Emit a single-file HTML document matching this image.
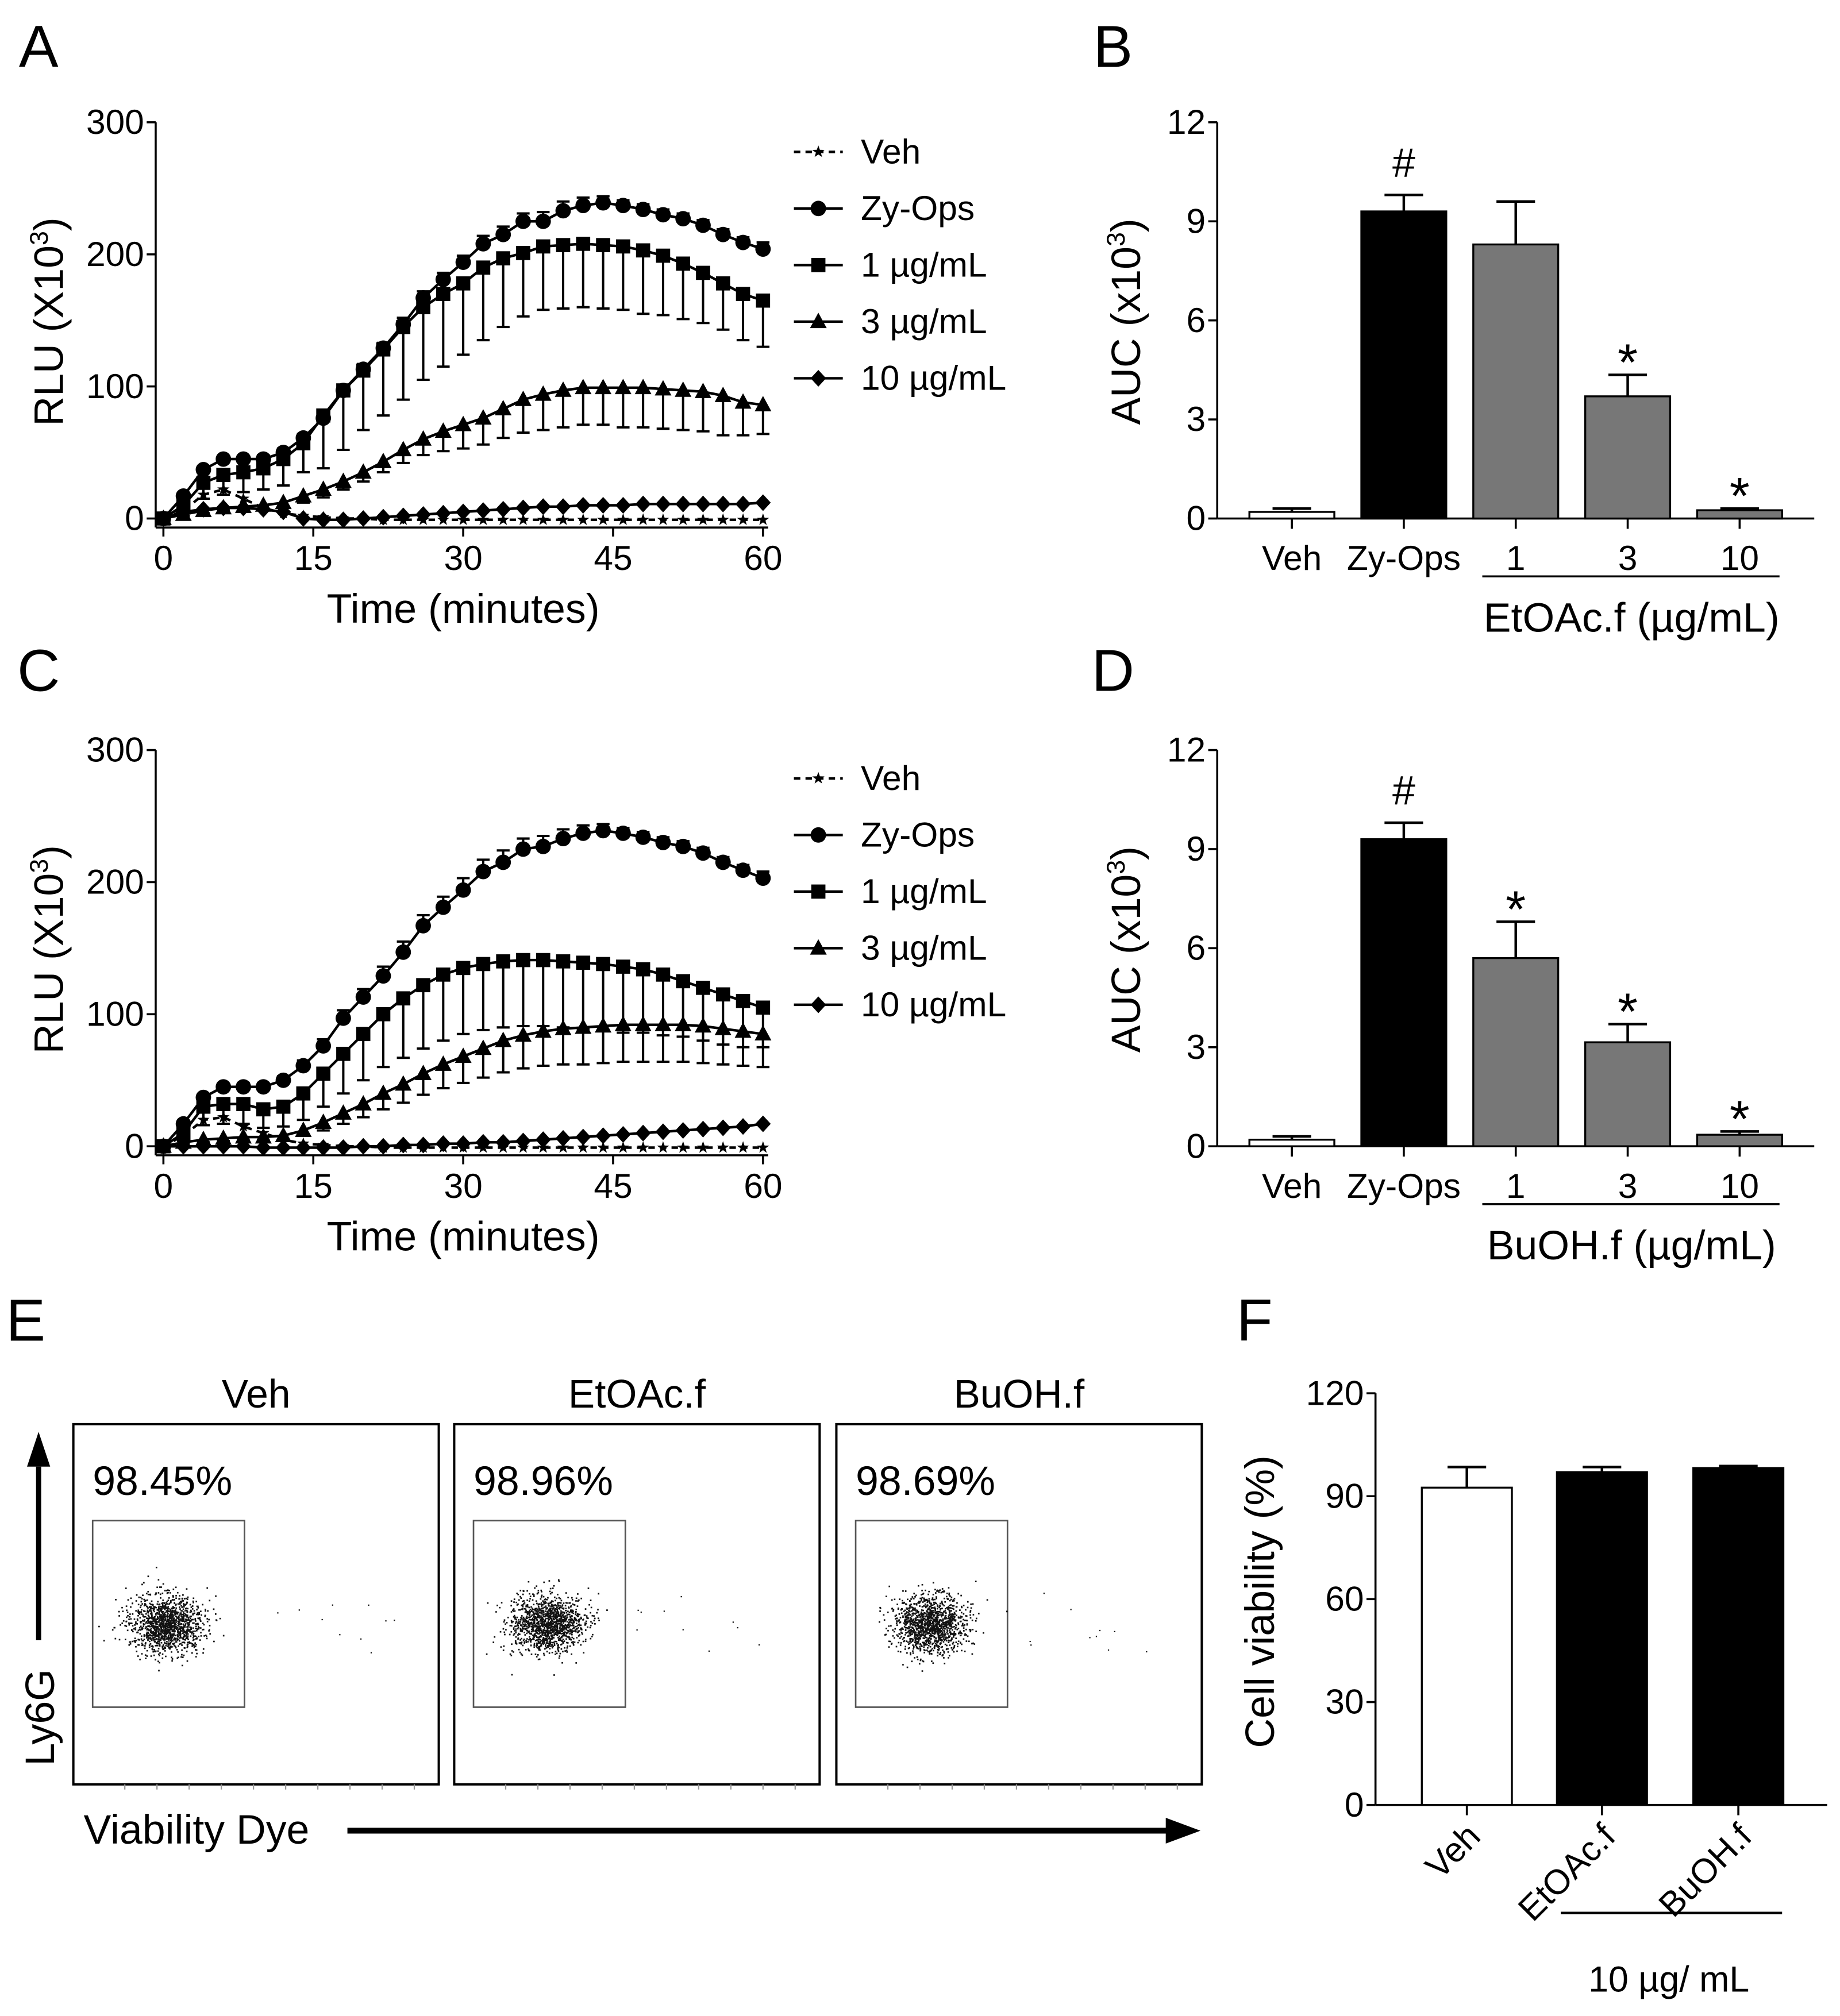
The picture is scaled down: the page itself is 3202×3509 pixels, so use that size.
<!DOCTYPE html>
<html><head><meta charset="utf-8"><style>
html,body{margin:0;padding:0;background:#fff;}
svg{display:block;font-family:"Liberation Sans",Arial,sans-serif;}
</style></head><body>
<svg id="fig" width="3202" height="3509" viewBox="0 0 1430 1567" xmlns="http://www.w3.org/2000/svg">
<rect width="1430" height="1567" fill="#fff"/>
<g id="root"></g>
</svg>
<script>
// ---- Panel A data (2-minute intervals, RLU x10^3) ----
const timeMin = [0,2,4,6,8,10,12,14,16,18,20,22,24,26,28,30,32,34,36,38,40,42,44,46,48,50,52,54,56,58,60];
const xTicks = [0,15,30,45,60];
const yTicksRLU = [0,100,200,300];
const A_veh  = [0,6,18,22,15,8,4,2,1,0,0,-1,-1,-1,-1,-1,-1,-1,-1,-1,-1,-1,-1,-1,-1,-1,-1,-1,-1,-1,-1];
const A_zy   = [0,17,37,45,45,45,50,61,76,97,113,129,147,167,181,194,208,215,225,225,233,237,239,237,234,230,227,222,215,209,204];
const A_zyErr= [0,2,2,2,2,3,3,3,4,4,4,4,5,5,5,5,6,6,6,7,7,6,5,4,4,4,4,4,4,4,5];
const A_1    = [0,10,27,33,35,38,45,57,78,97,112,128,145,160,170,178,190,197,201,206,207,208,207,206,203,199,193,186,178,170,165];
const A_1Err = [0,5,12,15,15,16,20,22,40,45,45,50,55,55,55,54,55,52,48,48,48,48,48,48,48,45,42,38,35,35,35];
const A_3    = [0,3,6,8,9,10,12,17,22,28,35,43,52,60,66,71,76,83,90,94,97,99,99,99,99,98,97,96,93,88,86];
const A_3Err = [0,1,2,2,2,3,3,5,6,6,7,8,10,12,15,18,20,22,25,27,28,28,28,30,30,30,30,30,30,25,22];
const A_10   = [0,5,7,8,8,7,5,0,-1,-1,0,1,2,3,4,5,6,7,8,9,9,10,10,10,11,11,11,11,11,11,12];
// ---- Panel C data ----
const C_veh  = [0,8,20,22,15,10,5,2,1,0,0,-1,-1,-1,-1,-1,-1,-1,-1,-1,-1,-1,-1,-1,-1,-1,-1,-1,-1,-1,-1];
const C_zy   = [0,17,37,45,45,45,50,61,76,97,113,129,147,167,181,194,208,215,225,227,233,237,239,237,234,230,227,222,215,209,203];
const C_zyErr= [0,2,2,2,3,3,3,4,5,6,6,7,8,8,8,9,9,9,8,8,7,6,5,4,4,4,4,4,4,4,5];
const C_1    = [0,10,30,32,32,28,30,40,55,70,85,100,112,122,130,135,138,140,141,141,140,139,138,136,134,130,125,120,115,110,105];
const C_1Err = [0,6,14,15,15,14,15,20,25,30,35,40,45,48,50,50,50,50,50,50,50,50,50,50,48,46,42,40,38,35,30];
const C_3    = [0,3,5,6,7,7,8,12,18,25,32,40,47,55,62,68,74,80,84,87,89,90,91,92,92,92,92,91,89,87,85];
const C_3Err = [0,1,2,2,2,2,3,4,6,8,10,12,14,16,18,20,22,24,25,26,27,28,28,28,28,28,28,28,27,26,25];
const C_10   = [0,0,0,0,0,-1,-1,-1,-1,-1,0,0,1,1,2,2,3,3,4,5,6,7,8,9,10,11,12,13,14,15,17];
// ---- Panels B/D data (AUC x10^3) ----
const aucCats = ["Veh","Zy-Ops","1","3","10"];
const B_vals = [0.2,9.3,8.3,3.7,0.25];
const B_errs = [0.1,0.5,1.3,0.65,0.05];
const D_vals = [0.2,9.3,5.7,3.15,0.35];
const D_errs = [0.1,0.5,1.1,0.55,0.1];
const aucTicks = [0,3,6,9,12];
// ---- Panel F data ----
const fCats = ["Veh","EtOAc.f","BuOH.f"];
const F_vals = [92.5,97,98.2];
const F_errs = [6,1.5,0.6];
const fTicks = [0,30,60,90,120];
const flowPct = ["98.45%","98.96%","98.69%"];
const flowTitles = ["Veh","EtOAc.f","BuOH.f"];

const NS="http://www.w3.org/2000/svg";
const root=document.getElementById('root');
const TF=27, TT=32;
function mk(tag,attrs,parent,txt){const e=document.createElementNS(NS,tag);for(const k in attrs)e.setAttribute(k,attrs[k]);if(txt!==undefined)e.textContent=txt;(parent||root).appendChild(e);return e;}
function grp(name,parent){const g=mk('g',{},parent);return g;}
function txt(s,x,y,size,name,parent,anchor,extra){const t=mk('text',Object.assign({x:x,y:y,'font-size':size,'text-anchor':anchor||'middle',fill:'#000'},extra||{}),parent,s);return t;}

function marker(kind,x,y,g){
  if(kind==='circle') mk('circle',{cx:x,cy:y,r:6,fill:'#000'},g);
  else if(kind==='square') mk('rect',{x:x-5.5,y:y-5.5,width:11,height:11,fill:'#000'},g);
  else if(kind==='tri') mk('polygon',{points:`${x},${y-7} ${x-6.5},${y+5} ${x+6.5},${y+5}`,fill:'#000'},g);
  else if(kind==='diamond') mk('polygon',{points:`${x},${y-6.5} ${x+6},${y} ${x},${y+6.5} ${x-6},${y}`,fill:'#000'},g);
  else if(kind==='star'){let p=[];for(let i=0;i<10;i++){const r=i%2?2:5;const a=-Math.PI/2+i*Math.PI/5;p.push((x+r*Math.cos(a)).toFixed(1)+','+(y+r*Math.sin(a)).toFixed(1));}mk('polygon',{points:p.join(' '),fill:'#000'},g);}
}

function linePanel(name,top,series,legendTop){
  const g=grp(name);
  const x0=127,x1=593,yb=top+308,yt=top;
  const sx=t=>x0+(t-0)/(60-0)*(x1-x0);
  const sy=v=>yb-(v/300)*(yb-yt);
  const ax=grp('axes',g);
  mk('line',{x1:121,y1:yt,x2:121,y2:yb+7,stroke:'#000','stroke-width':1.6},ax);
  mk('line',{x1:121,y1:yb+7,x2:x1+4,y2:yb+7,stroke:'#000','stroke-width':1.6},ax);
  yTicksRLU.forEach(v=>{mk('line',{x1:114,y1:sy(v),x2:121,y2:sy(v),stroke:'#000','stroke-width':1.6},ax);txt(String(v),112,sy(v)+9,TF,'y-tick-label',ax,'end');});
  xTicks.forEach(v=>{mk('line',{x1:sx(v),y1:yb+7,x2:sx(v),y2:yb+14,stroke:'#000','stroke-width':1.6},ax);txt(String(v),sx(v),yb+40,TF,'x-tick-label',ax);});
  txt('Time (minutes)',360,yb+81,TT,'x-axis-title',ax);
  const yl=mk('text',{x:0,y:0,'font-size':TT,'text-anchor':'middle',transform:`translate(49,${top+155}) rotate(-90)`},ax);
  
  yl.innerHTML='RLU (X10<tspan dy="-12" font-size="20">3</tspan><tspan dy="12">)</tspan>';
  series.forEach(s=>{
    const sg=grp('series-'+s.name,g);
    if(s.err){s.vals.forEach((v,i)=>{if(!s.err[i])return;const y2=sy(v+s.dir*s.err[i]);mk('line',{x1:sx(timeMin[i]),y1:sy(v),x2:sx(timeMin[i]),y2:y2,stroke:'#000','stroke-width':1.8},sg);mk('line',{x1:sx(timeMin[i])-5,y1:y2,x2:sx(timeMin[i])+5,y2:y2,stroke:'#000','stroke-width':1.8},sg);});}
    mk('polyline',{points:s.vals.map((v,i)=>sx(timeMin[i])+','+sy(v)).join(' '),fill:'none',stroke:'#000','stroke-width':2,'stroke-dasharray':s.dash||'none'},sg);
    s.vals.forEach((v,i)=>marker(s.m,sx(timeMin[i]),sy(v),sg));
  });
  const lg=grp('legend',g);
  const labels=[['Veh','star','5,4'],['Zy-Ops','circle'],['1 µg/mL','square'],['3 µg/mL','tri'],['10 µg/mL','diamond']];
  labels.forEach((l,i)=>{const y=legendTop+i*44;const e=grp('legend-entry',lg);
    mk('line',{x1:617,y1:y,x2:655,y2:y,stroke:'#000','stroke-width':2,'stroke-dasharray':l[2]||'none'},e);marker(l[1],636,y,e);
    txt(l[0],669,y+9,27,'legend-label',e,'start');});
}

linePanel('panel-a-chart',95,[
 {name:'veh',vals:A_veh,m:'star',dash:'5,4'},
 {name:'10ug',vals:A_10,m:'diamond'},
 {name:'3ug',vals:A_3,err:A_3Err,dir:-1,m:'tri'},
 {name:'1ug',vals:A_1,err:A_1Err,dir:-1,m:'square'},
 {name:'zy-ops',vals:A_zy,err:A_zyErr,dir:1,m:'circle'}],118);
linePanel('panel-c-chart',583,[
 {name:'veh',vals:C_veh,m:'star',dash:'5,4'},
 {name:'10ug',vals:C_10,m:'diamond'},
 {name:'3ug',vals:C_3,err:C_3Err,dir:-1,m:'tri'},
 {name:'1ug',vals:C_1,err:C_1Err,dir:-1,m:'square'},
 {name:'zy-ops',vals:C_zy,err:C_zyErr,dir:1,m:'circle'}],605);

function barPanel(name,top,vals,errs,sig,groupLabel){
  const g=grp(name);
  const yb=top+308,yt=top;
  const AX=946;
  const sy=v=>yb-(v/12)*(yb-yt);
  const cx=[1004,1091,1178,1265,1352];
  const fills=['#fff','#000','#777','#777','#777'];
  const ax=grp('axes',g);
  mk('line',{x1:AX,y1:yt,x2:AX,y2:yb,stroke:'#000','stroke-width':1.6},ax);
  mk('line',{x1:AX,y1:yb,x2:1410,y2:yb,stroke:'#000','stroke-width':1.6},ax);
  aucTicks.forEach(v=>{mk('line',{x1:AX-7,y1:sy(v),x2:AX,y2:sy(v),stroke:'#000','stroke-width':1.6},ax);txt(String(v),AX-9,sy(v)+9,TF,'y-tick-label',ax,'end');});
  const yl=mk('text',{x:0,y:0,'font-size':TT,'text-anchor':'middle',transform:`translate(886,${top+155}) rotate(-90)`},ax);
  
  yl.innerHTML='AUC (x10<tspan dy="-12" font-size="20">3</tspan><tspan dy="12">)</tspan>';
  vals.forEach((v,i)=>{const b=grp('bar-'+aucCats[i],g);
    const ye=sy(v+errs[i]);
    mk('line',{x1:cx[i],y1:sy(v),x2:cx[i],y2:ye,stroke:'#000','stroke-width':2},b);
    mk('line',{x1:cx[i]-15,y1:ye,x2:cx[i]+15,y2:ye,stroke:'#000','stroke-width':2},b);
    mk('rect',{x:cx[i]-33,y:sy(v),width:66,height:yb-sy(v),fill:fills[i],stroke:'#000','stroke-width':1.5},b);
    mk('line',{x1:cx[i],y1:yb,x2:cx[i],y2:yb+8,stroke:'#000','stroke-width':1.6},ax);
    txt(aucCats[i],cx[i],yb+40,TF,'x-tick-label',ax);
    if(sig[i]) txt(sig[i],cx[i],ye-14,sig[i]==='#'?32:40,'significance-mark',b,'middle',sig[i]==='*'?{dy:18}:{});
  });
  mk('line',{x1:1152,y1:yb+45,x2:1383,y2:yb+45,stroke:'#000','stroke-width':1.6},ax);
  txt(groupLabel,1268,yb+88,TT,'group-label',ax);
}
barPanel('panel-b-chart',95,B_vals,B_errs,['','#','','*','*'],'EtOAc.f (µg/mL)');
barPanel('panel-d-chart',583,D_vals,D_errs,['','#','*','*','*'],'BuOH.f (µg/mL)');

// Panel letters
[['A',30,35],['B',865,35],['C',30,520],['D',865,520],['E',20,1025],['F',975,1025]].forEach(l=>txt(l[0],l[1],l[2]+17,46,'panel-label-'+l[0].toLowerCase(),root));

// Panel E flow cytometry
(function(){
  const g=grp('panel-e-flow');
  const bx=[57,353,650];
  let seed=12345;const rnd=()=>{seed=(seed*1103515245+12345)%2147483648;return seed/2147483648;};
  const gauss=()=>{let u=rnd()||1e-6,v=rnd();return Math.sqrt(-2*Math.log(u))*Math.cos(2*Math.PI*v);};
  bx.forEach((x,i)=>{
    const p=grp('flow-plot-'+flowTitles[i].toLowerCase().replace('.',''),g);
    mk('rect',{x:x,y:1107,width:284,height:280,fill:'#fff',stroke:'#000','stroke-width':1.8},p);
    txt(flowTitles[i],x+142,1094,31,'plot-title',p);
    txt(flowPct[i],x+15,1162,32,'gate-percentage',p,'start');
    mk('rect',{x:x+15,y:1182,width:118,height:145,fill:'none',stroke:'#555','stroke-width':1.2},p);
    let d='';const cxp=x+72,cyp=1262;
    for(let k=0;k<1400;k++){const dx=gauss()*14,dy=gauss()*11;d+=`M${(cxp+dx).toFixed(1)} ${(cyp+dy).toFixed(1)}h1.2v1.2h-1.2z`;}
    for(let k=0;k<10;k++){d+=`M${(x+140+rnd()*110).toFixed(1)} ${(1235+rnd()*50).toFixed(1)}h1v1h-1z`;}
    mk('path',{d:d,fill:'#111'},p);
    for(let k=0;k<10;k++) mk('line',{x1:x+40+k*25,y1:1387,x2:x+40+k*25,y2:1391,stroke:'#999','stroke-width':1},p);
  });
  mk('line',{x1:30,y1:1275,x2:30,y2:1140,stroke:'#000','stroke-width':4},g);
  mk('polygon',{points:'30,1113 21,1140 39,1140',fill:'#000'},g);
  txt('Ly6G',0,0,32,'y-axis-title',g,'middle',{transform:'translate(42,1335) rotate(-90)'});
  txt('Viability Dye',65,1433,32,'x-axis-title',g,'start');
  mk('line',{x1:270,y1:1423,x2:908,y2:1423,stroke:'#000','stroke-width':4.5},g);
  mk('polygon',{points:'933,1423 906,1413 906,1433',fill:'#000'},g);
})();

// Panel F
(function(){
  const g=grp('panel-f-chart');
  const yb=1403,yt=1083,AX=1069;
  const sy=v=>yb-(v/120)*(yb-yt);
  const cx=[1140,1245,1351];
  const fills=['#fff','#000','#000'];
  const ax=grp('axes',g);
  mk('line',{x1:AX,y1:yt,x2:AX,y2:yb,stroke:'#000','stroke-width':1.6},ax);
  mk('line',{x1:AX,y1:yb,x2:1420,y2:yb,stroke:'#000','stroke-width':1.6},ax);
  fTicks.forEach(v=>{mk('line',{x1:AX-7,y1:sy(v),x2:AX,y2:sy(v),stroke:'#000','stroke-width':1.6},ax);txt(String(v),AX-9,sy(v)+9,TF,'y-tick-label',ax,'end');});
  txt('Cell viability (%)',0,0,TT,'y-axis-title',ax,'middle',{transform:'translate(990,1245) rotate(-90)'});
  F_vals.forEach((v,i)=>{const b=grp('bar-'+fCats[i].toLowerCase().replace('.',''),g);
    const ye=sy(v+F_errs[i]);
    mk('line',{x1:cx[i],y1:sy(v),x2:cx[i],y2:ye,stroke:'#000','stroke-width':2},b);
    mk('line',{x1:cx[i]-15,y1:ye,x2:cx[i]+15,y2:ye,stroke:'#000','stroke-width':2},b);
    mk('rect',{x:cx[i]-35,y:sy(v),width:70,height:yb-sy(v),fill:fills[i],stroke:'#000','stroke-width':1.5},b);
    mk('line',{x1:cx[i],y1:yb,x2:cx[i],y2:yb+8,stroke:'#000','stroke-width':1.6},ax);
    txt(fCats[i],0,0,TF,'x-tick-label',ax,'end',{transform:`translate(${cx[i]+12},${yb+26}) rotate(-45)`});
  });
  mk('line',{x1:1213,y1:1487,x2:1385,y2:1487,stroke:'#000','stroke-width':2},ax);
  txt('10 µg/ mL',1297,1548,28,'group-label',ax);
})();
</script>
</body></html>
